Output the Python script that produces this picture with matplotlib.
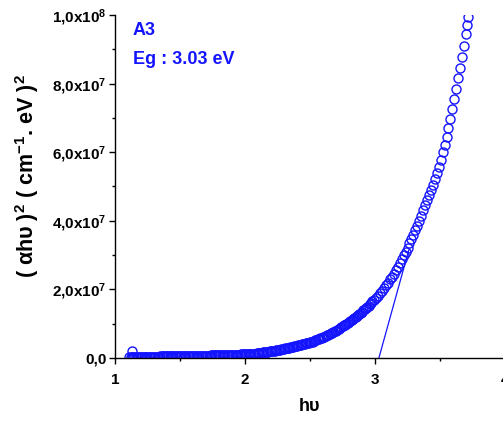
import numpy as np
import matplotlib
matplotlib.use("Agg")
import matplotlib.pyplot as plt
from matplotlib.ticker import MultipleLocator

plt.rcParams['font.family'] = ['Liberation Sans', 'DejaVu Sans']
plt.rcParams['font.weight'] = 'bold'
plt.rcParams['mathtext.fontset'] = 'custom'
plt.rcParams['mathtext.rm'] = 'Liberation Sans:bold'
plt.rcParams['mathtext.it'] = 'Liberation Sans:bold'
plt.rcParams['mathtext.bf'] = 'Liberation Sans:bold'

#%% datos (y en unidades de 1e7)
hv_bajo = [1.13,
           1.11, 1.12, 1.13, 1.14, 1.15, 1.16, 1.17, 1.18, 1.19, 1.20,
           1.21, 1.22, 1.23, 1.24, 1.25, 1.26, 1.27, 1.28, 1.29, 1.30,
           1.31, 1.32, 1.33, 1.34, 1.35, 1.36, 1.37, 1.38, 1.39, 1.40,
           1.41, 1.42, 1.43, 1.44, 1.45, 1.46, 1.47, 1.48, 1.49, 1.50,
           1.51, 1.52, 1.53, 1.54, 1.55, 1.56, 1.57, 1.58, 1.59, 1.60,
           1.61, 1.62, 1.63, 1.64, 1.65, 1.66, 1.67, 1.68, 1.69, 1.70,
           1.71, 1.72, 1.73, 1.74, 1.75, 1.76, 1.77, 1.78, 1.79, 1.80,
           1.81, 1.82, 1.83, 1.84, 1.85, 1.86, 1.87, 1.88, 1.89, 1.90,
           1.91, 1.92, 1.93, 1.94, 1.95, 1.96, 1.97, 1.98, 1.99]
y_bajo = [0.21,
          0.04, 0.04, 0.04, 0.04, 0.04, 0.04, 0.04, 0.04, 0.04, 0.04,
          0.04, 0.04, 0.04, 0.04, 0.04, 0.04, 0.04, 0.04, 0.04, 0.04,
          0.04, 0.04, 0.04, 0.04, 0.045, 0.045, 0.045, 0.045, 0.045, 0.045,
          0.045, 0.045, 0.05, 0.05, 0.05, 0.05, 0.05, 0.05, 0.05, 0.05,
          0.05, 0.05, 0.055, 0.055, 0.055, 0.055, 0.055, 0.055, 0.06, 0.06,
          0.06, 0.06, 0.06, 0.06, 0.065, 0.065, 0.065, 0.065, 0.07, 0.07,
          0.07, 0.07, 0.07, 0.075, 0.075, 0.075, 0.075, 0.08, 0.08, 0.08,
          0.08, 0.085, 0.085, 0.085, 0.085, 0.09, 0.09, 0.09, 0.09, 0.095,
          0.095, 0.095, 0.10, 0.10, 0.10, 0.10, 0.105, 0.105, 0.11]

hv_medio = [2.00, 2.01, 2.02, 2.03, 2.04, 2.05, 2.06, 2.07, 2.08, 2.09,
            2.10, 2.11, 2.12, 2.13, 2.14, 2.15, 2.16, 2.17, 2.18, 2.19,
            2.20, 2.21, 2.22, 2.23, 2.24, 2.25, 2.26, 2.27, 2.28, 2.29,
            2.30, 2.31, 2.32, 2.33, 2.34, 2.35, 2.36, 2.37, 2.38, 2.39,
            2.40, 2.41, 2.42, 2.43, 2.44, 2.45, 2.46, 2.47, 2.48, 2.49,
            2.50, 2.51, 2.52, 2.53, 2.54, 2.55, 2.56, 2.57, 2.58, 2.59,
            2.60, 2.61, 2.62, 2.63, 2.64, 2.65, 2.66, 2.67, 2.68, 2.69,
            2.70, 2.71, 2.72, 2.73, 2.74, 2.75, 2.76, 2.77, 2.78, 2.79,
            2.80, 2.81, 2.82, 2.83, 2.84, 2.85, 2.86, 2.87, 2.88, 2.89,
            2.90, 2.91, 2.92, 2.93, 2.94, 2.95, 2.96, 2.97, 2.98, 2.99]
y_medio = [0.11, 0.115, 0.115, 0.12, 0.12, 0.125, 0.125, 0.13, 0.13, 0.135,
           0.14, 0.145, 0.15, 0.155, 0.16, 0.165, 0.17, 0.175, 0.18, 0.19,
           0.20, 0.205, 0.21, 0.215, 0.225, 0.23, 0.24, 0.245, 0.255, 0.26,
           0.27, 0.28, 0.29, 0.295, 0.305, 0.315, 0.325, 0.33, 0.34, 0.35,
           0.36, 0.37, 0.38, 0.39, 0.40, 0.41, 0.42, 0.43, 0.44, 0.45,
           0.46, 0.47, 0.48, 0.495, 0.51, 0.525, 0.54, 0.555, 0.57, 0.585,
           0.60, 0.62, 0.64, 0.66, 0.68, 0.70, 0.72, 0.74, 0.76, 0.78,
           0.80, 0.825, 0.85, 0.875, 0.90, 0.925, 0.95, 0.975, 1.00, 1.025,
           1.05, 1.08, 1.11, 1.14, 1.17, 1.20, 1.23, 1.26, 1.29, 1.32,
           1.35, 1.385, 1.42, 1.455, 1.49, 1.53, 1.57, 1.61, 1.65, 1.70]

hv_alto = [3.01, 3.025, 3.04, 3.055, 3.07, 3.085, 3.10, 3.115, 3.13, 3.145,
           3.16, 3.175, 3.19, 3.205, 3.22, 3.235, 3.25, 3.265, 3.28, 3.295,
           3.31, 3.325, 3.34, 3.355, 3.37, 3.385, 3.40, 3.415, 3.43, 3.445,
           3.46, 3.475, 3.49, 3.505, 3.52, 3.535, 3.55, 3.565, 3.58, 3.595,
           3.61, 3.625, 3.64, 3.655, 3.67, 3.685, 3.70, 3.71, 3.715]
y_alto = [1.75, 1.82, 1.89, 1.96, 2.04, 2.12, 2.20, 2.29, 2.37, 2.46,
          2.56, 2.66, 2.77, 2.88, 2.99, 3.10, 3.22, 3.35, 3.48, 3.60,
          3.72, 3.86, 4.00, 4.15, 4.30, 4.45, 4.60, 4.75, 4.90, 5.05,
          5.22, 5.40, 5.58, 5.78, 6.00, 6.22, 6.45, 6.70, 6.97, 7.25,
          7.55, 7.85, 8.15, 8.45, 8.78, 9.10, 9.45, 9.72, 9.95]

# recta de ajuste (Eg = 3.03 eV)
hv_fit = [3.03, 3.26]
y_fit = [0.0, 3.15]

yticks = [0, 2e7, 4e7, 6e7, 8e7, 1e8]
ytick_labels = ['0,0', r'2,0x10$^{7}$', r'4,0x10$^{7}$', r'6,0x10$^{7}$',
                r'8,0x10$^{7}$', r'1,0x10$^{8}$']
xticks = [1, 2, 3, 4]

hv = np.array(hv_bajo + hv_medio + hv_alto)
y = np.array(y_bajo + y_medio + y_alto) * 1e7

#%% grafico
fig = plt.figure(figsize=(5.03, 4.22), dpi=100)
ax = fig.add_axes([0.2286, 0.1517, 0.7754, 0.8128])

azul = '#1414ff'
ax.plot(hv, y, 'o', mfc='none', mec=azul, ms=6.5, mew=1.0)
ax.plot(hv_fit, np.array(y_fit) * 1e7, '-', color=azul, lw=0.9)

ax.set_xlim(1, 4)
ax.set_ylim(0, 1e8)
ax.set_xticks(xticks)
ax.set_xticklabels([str(t) for t in xticks])
ax.set_yticks(yticks)
ax.set_yticklabels(ytick_labels)
ax.xaxis.set_minor_locator(MultipleLocator(0.5))
ax.yaxis.set_minor_locator(MultipleLocator(1e7))

ax.spines['top'].set_visible(False)
ax.spines['right'].set_visible(False)
for s in ['left', 'bottom']:
    ax.spines[s].set_linewidth(1.0)
    ax.spines[s].set_zorder(3)
ax.tick_params(which='major', direction='out', length=4, width=1.0,
               labelsize=11, pad=2)
ax.tick_params(which='minor', direction='out', length=2.5, width=1.0)
ax.tick_params(axis='x', pad=7)

ax.set_xlabel('h\u03c5', fontsize=13, fontweight='bold', labelpad=8)
ax.set_ylabel('( \u03b1h\u03c5 )$^{2}$ ( cm$^{-1}$. eV )$^{2}$',
              fontsize=15.5, fontweight='bold')
ax.yaxis.set_label_coords(-0.19, 0.53)

ax.text(0.045, 0.955, 'A3', transform=ax.transAxes, color=azul,
        fontsize=13, fontweight='bold', va='center', ha='left')
ax.text(0.045, 0.87, 'Eg : 3.03 eV', transform=ax.transAxes, color=azul,
        fontsize=13, fontweight='bold', va='center', ha='left')

fig.savefig('out.png', dpi=100)
